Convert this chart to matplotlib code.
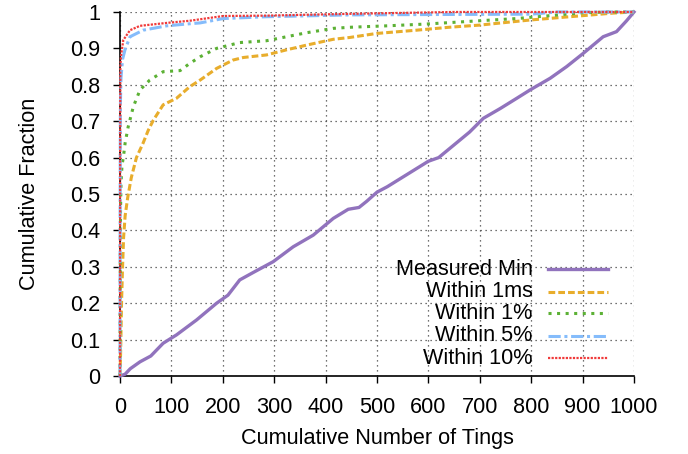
import matplotlib
matplotlib.use('Agg')
import matplotlib.pyplot as plt
import numpy as np

plt.rcParams['font.family'] = ['Liberation Sans', 'DejaVu Sans']
plt.rcParams['font.size'] = 15.6

# Measured Min
min_x = [0, 10, 20, 39, 60, 84, 110, 149, 188, 210, 233, 260, 298, 337, 376, 415,
         444, 465, 480, 500, 520, 560, 600, 620, 650, 680, 707, 740, 772, 798, 837,
         869, 901, 940, 966, 985, 1000]
min_y = [0, 0.005, 0.02, 0.039, 0.055, 0.09, 0.113, 0.154, 0.2, 0.222, 0.264, 0.285,
         0.314, 0.355, 0.387, 0.433, 0.458, 0.463, 0.48, 0.505, 0.52, 0.555, 0.59,
         0.60, 0.635, 0.67, 0.708, 0.735, 0.763, 0.786, 0.818, 0.85, 0.886, 0.932,
         0.946, 0.975, 1.0]

# Within 1ms
ms_x = [0, 1, 2, 3, 5, 7, 10, 15, 22, 32, 45, 55, 65, 84, 110, 136, 156, 188, 220,
        240, 285, 324, 363, 415, 447, 499, 577, 640, 700, 798, 901, 960, 1000]
ms_y = [0, 0.05, 0.12, 0.2, 0.3, 0.38, 0.44, 0.49, 0.545, 0.6, 0.64, 0.675, 0.703,
        0.745, 0.763, 0.795, 0.813, 0.845, 0.868, 0.875, 0.882, 0.896, 0.909,
        0.925, 0.93, 0.941, 0.95, 0.958, 0.964, 0.978, 0.99, 0.997, 1.0]

# Within 1%
p1_x = [0, 0.5, 1, 2, 4, 6.5, 10, 16, 26, 39, 58, 84, 117, 136, 156, 188, 233, 285,
        324, 363, 415, 447, 520, 597, 700, 772, 837, 901, 950, 1000]
p1_y = [0, 0.3, 0.45, 0.53, 0.58, 0.6, 0.64, 0.685, 0.74, 0.786, 0.813, 0.836,
        0.839, 0.859, 0.877, 0.90, 0.916, 0.921, 0.932, 0.943, 0.955, 0.958,
        0.962, 0.967, 0.976, 0.982, 0.99, 0.998, 1.0, 1.0]

# Within 5%
p5_x = [0, 0.3, 0.7, 1, 2, 5, 9.7, 19.5, 45, 91, 130, 156, 201, 285, 447, 600, 800,
        850, 1000]
p5_y = [0, 0.5, 0.72, 0.76, 0.82, 0.87, 0.896, 0.932, 0.95, 0.962, 0.967, 0.97,
        0.982, 0.987, 0.992, 0.993, 0.994, 1.0, 1.0]

# Within 10%
p10_x = [0, 0.3, 0.7, 2, 6.5, 19.5, 39, 91, 136, 201, 285, 447, 650, 1000]
p10_y = [0, 0.6, 0.85, 0.88, 0.923, 0.95, 0.962, 0.97, 0.976, 0.989, 0.99, 0.995,
         1.0, 1.0]

labels = ['Measured Min', 'Within 1ms', 'Within 1%', 'Within 5%', 'Within 10%']
colors = ['#9173bd', '#e8ad2c', '#5cb135', '#85bcfb', '#f03a3a']
styles = ['-', (0, (2.2, 1.0)), (0, (1, 1.8)), (0, (4, 1.2, 1, 1.2)), (0, (1, 0.6))]
widths = [2.4, 2.2, 2.2, 2.2, 1.6]
series = [(min_x, min_y), (ms_x, ms_y), (p1_x, p1_y), (p5_x, p5_y), (p10_x, p10_y)]

fig = plt.figure(figsize=(6.88, 4.54), dpi=100)
ax = fig.add_axes([0.1744, 0.1718, 0.9215 - 0.1744, 0.9736 - 0.1718])

for (xs, ys), c, ls, lw in zip(series, colors, styles, widths):
    ax.plot(xs, ys, color=c, linestyle=ls, linewidth=lw, clip_on=False, zorder=3)

ax.set_xlim(0, 1000)
ax.set_ylim(0, 1)
ax.set_xticks(np.arange(0, 1001, 100))
ax.set_yticks(np.arange(0, 1.01, 0.1))
ax.set_yticklabels(['0', '0.1', '0.2', '0.3', '0.4', '0.5', '0.6', '0.7', '0.8', '0.9', '1'])
ax.tick_params(direction='out', length=5, width=1)
ax.tick_params(axis='x', pad=10)
ax.tick_params(axis='y', pad=9)
ax.grid(True, color='#444444', linestyle=(0, (1, 3)), linewidth=0.9)
ax.set_axisbelow(True)
for s in ['top', 'right']:
    ax.spines[s].set_visible(False)
for s in ['left', 'bottom']:
    ax.spines[s].set_linewidth(1.2)

ax.set_xlabel('Cumulative Number of Tings', labelpad=7)
ax.set_ylabel('Cumulative Fraction', labelpad=22)

# gnuplot-style key: right-aligned text, sample line after
key_y = [0.293, 0.231, 0.172, 0.110, 0.049]
for lab, c, ls, lw, ky in zip(labels, colors, styles, widths, key_y):
    ax.text(0.803, ky, lab, transform=ax.transAxes, ha='right', va='center')
    ax.plot([0.833, 0.949], [ky, ky], transform=ax.transAxes, color=c,
            linestyle=ls, linewidth=lw, zorder=4)

fig.savefig('out.png', dpi=100)
